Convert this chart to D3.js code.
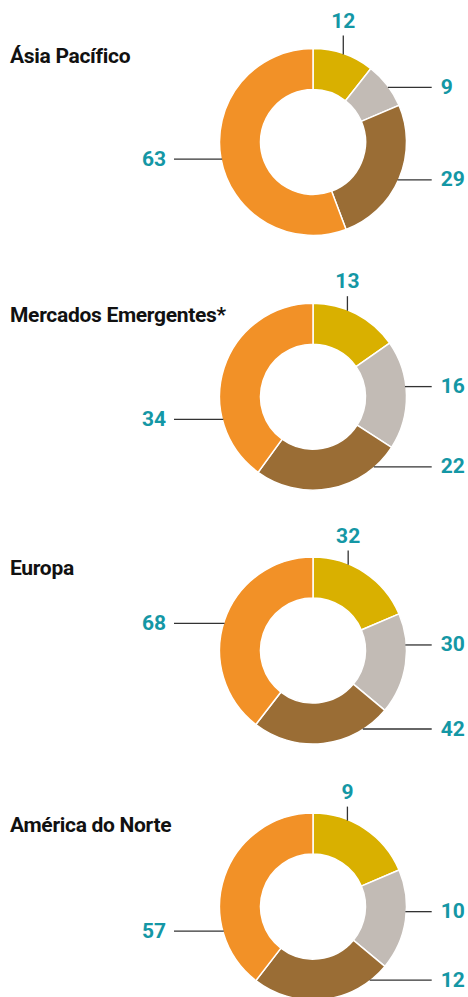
<!DOCTYPE html>
<html>
<head>
    <meta charset="utf-8">
    <title>Donuts por região</title>
    <script src="https://cdn.jsdelivr.net/npm/d3@7"></script>
    <style>
        body { margin: 0; background: #fff; }
        .title {
            font-family: Roboto, sans-serif;
            font-weight: bold;
            font-size: 21px;
            letter-spacing: -0.3px;
            fill: #111;
        }
        .value {
            font-family: Roboto, sans-serif;
            font-weight: bold;
            font-size: 21px;
            fill: #1497a5;
        }
        .leader { stroke: #333; stroke-width: 1.3; fill: none; }
    </style>
</head>
<body>
    <div id="chart"></div>

    <script>
        // Data
        const regions = ["Ásia Pacífico", "Mercados Emergentes*", "Europa", "América do Norte"];
        const asiaPacifico = [12, 9, 29, 63];
        const mercadosEmergentes = [13, 16, 22, 34];
        const europa = [32, 30, 42, 68];
        const americaNorte = [9, 10, 12, 57];
        // the América do Norte donut is drawn with the same shares as Europa, not with its labels
        const americaNorteSlices = [32, 30, 42, 68];

        const labelSets = [asiaPacifico, mercadosEmergentes, europa, americaNorte];
        const sliceSets = [asiaPacifico, mercadosEmergentes, europa, americaNorteSlices];

        const colors = ["#d9b000", "#c2bbb5", "#9a6d35", "#f29127"];

        // Layout
        const width = 468, height = 997;
        const cx = 313;
        const centersY = [142, 396.7, 650.5, 906.6];
        const titleBase = [63.3, 321.7, 575, 831.7];
        const rOuter = 93.5, rInner = 52.5;
        const topTick = [13, 7, 6.5, 6.5];
        // angle (deg, clockwise from top) where each leader leaves the ring
        const leaderAngles = [
            [18.9, 54.3, 113.9, 259.4],
            [21.6, 83.8, 138.6, 256],
            [22.1, 86.6, 147.1, 286.9],
            [21.6, 93.1, 141.9, 254.8]
        ];
        const rightLineEnd = 431.7, leftLineEnd = 174;

        const svg = d3.select("#chart")
            .append("svg")
            .attr("width", width)
            .attr("height", height);

        const pie = d3.pie().sort(null).value(d => d);
        const arc = d3.arc().innerRadius(rInner).outerRadius(rOuter);

        regions.forEach((name, p) => {
            const cy = centersY[p];

            svg.append("text")
                .attr("class", "title")
                .attr("x", 10)
                .attr("y", titleBase[p])
                .text(name);

            const g = svg.append("g")
                .attr("transform", `translate(${cx}, ${cy})`);

            g.selectAll("path")
                .data(pie(sliceSets[p]))
                .enter().append("path")
                .attr("d", arc)
                .attr("fill", (d, i) => colors[i])
                .attr("stroke", "#fff")
                .attr("stroke-width", 1.5);

            labelSets[p].forEach((v, i) => {
                const a = leaderAngles[p][i] * Math.PI / 180;
                const [px, py] = d3.pointRadial(a, rOuter);
                if (i === 0) {
                    const top = -rOuter - topTick[p];
                    g.append("line").attr("class", "leader")
                        .attr("x1", px).attr("y1", py + 1)
                        .attr("x2", px).attr("y2", top);
                    g.append("text").attr("class", "value")
                        .attr("x", px).attr("y", top - 8)
                        .attr("text-anchor", "middle")
                        .text(v);
                } else if (i === 3) {
                    g.append("line").attr("class", "leader")
                        .attr("x1", px + 1).attr("y1", py)
                        .attr("x2", leftLineEnd - cx).attr("y2", py);
                    g.append("text").attr("class", "value")
                        .attr("x", leftLineEnd - cx - 8).attr("y", py + 6.5)
                        .attr("text-anchor", "end")
                        .text(v);
                } else {
                    g.append("line").attr("class", "leader")
                        .attr("x1", px - 1).attr("y1", py)
                        .attr("x2", rightLineEnd - cx).attr("y2", py);
                    g.append("text").attr("class", "value")
                        .attr("x", rightLineEnd - cx + 9).attr("y", py + 6.5)
                        .attr("text-anchor", "start")
                        .text(v);
                }
            });
        });
    </script>
</body>
</html>
